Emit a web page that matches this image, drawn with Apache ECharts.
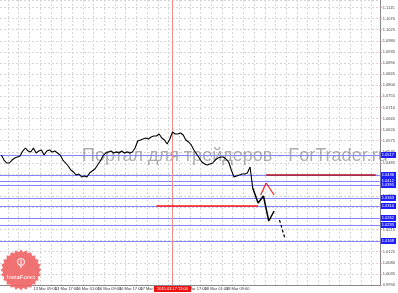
<!DOCTYPE html>
<html><head><meta charset="utf-8">
<script src="https://cdn.jsdelivr.net/npm/echarts@6/dist/echarts.min.js"></script>
<style>html,body{margin:0;padding:0;background:#fff}#c{width:398px;height:293px}</style>
</head><body><div id="c"></div>
<script>
// ---- data ----
const categoryCount = 142; // hourly slots on the chart (incl. empty future area)
const labelIndices = [4, 12, 20, 28, 36, 44, 52, 60, 68, 76, 84, 92];
const labelTexts = ['13 Mar 01:00','13 Mar 09:00','13 Mar 17:00','16 Mar 01:00','16 Mar 09:00','16 Mar 17:00',
                    '17 Mar 01:00','17 Mar 09:00','17 Mar 17:00','18 Mar 01:00','18 Mar 09:00','18 Mar 17:00'];
const priceClose = [
 1.05170,1.04967,1.04846,1.04846,1.04967,1.05049,1.05089,1.05130,1.05332,1.05454,
 1.05332,1.05292,1.05454,1.05251,1.05332,1.05373,1.05170,1.05332,1.05373,1.05292,
 1.05332,1.05251,1.05170,1.04967,1.04846,1.04724,1.04562,1.04481,1.04359,1.04400,
 1.04278,1.04319,1.04278,1.04440,1.04522,1.04603,1.04765,1.04927,1.05130,1.05251,
 1.05292,1.05332,1.05251,1.05292,1.05251,1.05332,1.05251,1.05292,1.05251,1.05292,
 1.05454,1.05738,1.05778,1.05819,1.05859,1.05819,1.05900,1.05940,1.05940,1.06022,
 1.05859,1.05778,1.05616,1.05819,1.06103,1.06022,1.06022,1.06062,1.05981,1.05778,
 1.05697,1.05576,1.05373,1.05211,1.05049,1.04886,1.04805,1.04765,1.04805,1.04846,
 1.04967,1.05049,1.05089,1.05089,1.05008,1.04886,1.04562,1.04278,1.04319,1.04359,
 1.04400,1.04400,1.04440,1.04684,1.03832
];
const blueLevels = [1.05170, 1.04359, 1.04116, 1.03954, 1.03427, 1.03103, 1.02616, 1.02332, 1.01684];
const bidPrice = 1.03711;
const redLevelLow = 1.03103;   // bright red segment
const redLevelHigh = 1.04359;  // dark red segment
const redLowRange = [58, 96];
const redHighRange = [99, 140];
const cursorIndex = 64;
const cursorLabel = '2015.03.17 13:00';
const forecastMain = [[94,1.03832],[96,1.03224],[98,1.03508],[100,1.02494],[102,1.02900]];
const forecastTail = [[104,1.02535],[106,1.01805]];
const forecastAlt = [[97,1.03549],[99,1.04035],[101,1.03711],[102,1.03549]];

// ---- build ----
const categories = [];
for (let i = 0; i < categoryCount; i++) categories.push('');
labelIndices.forEach((idx, k) => { categories[idx] = labelTexts[k]; });

function withArrow(arr, rot) {
  return arr.map((p, i) => i === arr.length - 1
    ? { value: p, symbol: 'arrow', symbolSize: [5, 6], symbolRotate: rot }
    : { value: p, symbol: 'none' });
}

const teeth = [];
for (let k = 0; k < 48; k++) {
  const a = k * Math.PI * 2 / 48;
  const r = k % 2 ? 18 : 20.5;
  teeth.push([21 + r * Math.cos(a), 270 + r * Math.sin(a)]);
}

const boxLabel = (txt, bg) => ({ show: true, position: 'end', distance: 1, formatter: txt, fontSize: 4,
  color: '#fff', backgroundColor: bg, padding: [1, 2, 1, 1], fontFamily: 'Liberation Sans' });

const blueStyle = { color: '#8585ff', width: 1, type: 'solid', opacity: 1 };
const levelLines = blueLevels.map(v => ({ yAxis: v, lineStyle: blueStyle, label: boxLabel(v.toFixed(4), '#1e1eff') }));

const chart = echarts.init(document.getElementById('c'), null, { renderer: 'canvas' });
chart.setOption({
  animation: false,
  backgroundColor: '#fff',
  grid: { left: 0, right: 14, top: 0, bottom: 8 },
  xAxis: {
    type: 'category', data: categories, boundaryGap: true,
    axisLine: { show: true, lineStyle: { color: '#888', width: 1 } },
    axisTick: { show: false },
    axisLabel: {
      interval: (idx, val) => val !== '', fontSize: 4, color: '#333', align: 'left',
      margin: 2, fontFamily: 'Liberation Sans'
    },
    splitLine: { show: true, interval: (idx) => idx % 4 === 3, lineStyle: { color: '#d6d6d6', type: [2, 2], width: 1 } }
  },
  yAxis: {
    type: 'value', position: 'right', min: 0.999, max: 1.11454, interval: 0.0045,
    axisLine: { show: true, lineStyle: { color: '#888', width: 1 } },
    axisTick: { show: true, length: 2, lineStyle: { color: '#c88' } },
    axisLabel: { fontSize: 4, color: '#444', margin: 3, showMaxLabel: false,
                 formatter: v => v.toFixed(4), fontFamily: 'Liberation Sans' },
    splitLine: { show: true, lineStyle: { color: '#d6d6d6', type: [2, 2], width: 1 } }
  },
  graphic: [
    { type: 'text', left: 82, top: 147, z: 1, silent: true,
      style: { text: 'Портал для трейдеров - ForTrader.ru', fontSize: 18, fontFamily: 'Liberation Sans',
               fill: 'rgba(130,130,130,0.65)' } },
    { type: 'polygon', z: 50, shape: { points: teeth }, style: { fill: '#f06666', opacity: 0.92 } },
    { type: 'circle', z: 51, shape: { cx: 21, cy: 262, r: 3.5 }, style: { fill: 'none', stroke: '#fff', lineWidth: 1 } },
    { type: 'line', z: 51, shape: { x1: 21, y1: 260, x2: 21, y2: 268 }, style: { stroke: '#fff', lineWidth: 1 } },
    { type: 'text', z: 51, x: 21, y: 277, style: { text: 'InstaForex', fontSize: 6, fill: '#fff', align: 'center',
      verticalAlign: 'middle', fontFamily: 'Liberation Sans' } }
  ],
  series: [
    {
      name: 'levels', type: 'line', data: [], symbol: 'none', z: 3, color: '#8585ff',
      markLine: { silent: true, symbol: 'none', animation: false, precision: 5, lineStyle: blueStyle,
        data: levelLines.concat([
          { yAxis: bidPrice, lineStyle: { opacity: 0, color: '#fff', width: 0 }, label: boxLabel(bidPrice.toFixed(4), '#111') }
        ]) }
    },
    {
      name: 'marks', type: 'line', data: [], symbol: 'none', z: 4, color: '#ff1a1a',
      markLine: { silent: true, symbol: 'none', animation: false, precision: 5,
        lineStyle: { color: '#ff1a1a', width: 1.5, type: 'solid' }, data: [
        { xAxis: cursorIndex, lineStyle: { color: '#f08c8c', width: 1, type: 'solid' },
          label: { show: true, position: 'start', distance: 1, formatter: cursorLabel, fontSize: 4,
                   color: '#fff', backgroundColor: '#f01010', padding: [1, 3, 1, 3], fontFamily: 'Liberation Sans' } },
        [ { coord: [redLowRange[0], redLevelLow], lineStyle: { color: '#ff1a1a', width: 1.5, type: 'solid' }, label: { show: false } },
          { coord: [redLowRange[1], redLevelLow] } ],
        [ { coord: [redHighRange[0], redLevelHigh], lineStyle: { color: '#b01020', width: 1.5, type: 'solid' }, label: { show: false } },
          { coord: [redHighRange[1], redLevelHigh] } ]
      ] }
    },
    { name: 'price', type: 'line', data: priceClose, symbol: 'none', z: 5, lineStyle: { color: '#000', width: 1.1 } },
    { type: 'line', data: forecastMain, symbol: 'none', z: 6, lineStyle: { color: '#000', width: 1.5 } },
    { type: 'line', data: withArrow(forecastTail, 197), z: 6, lineStyle: { color: '#000', width: 1.2, type: [3, 2] },
      itemStyle: { color: '#000' } },
    { type: 'line', data: withArrow(forecastAlt, 211), z: 6, lineStyle: { color: '#ff2020', width: 1.2 },
      itemStyle: { color: '#ff2020' } }
  ]
});
</script>
</body></html>
